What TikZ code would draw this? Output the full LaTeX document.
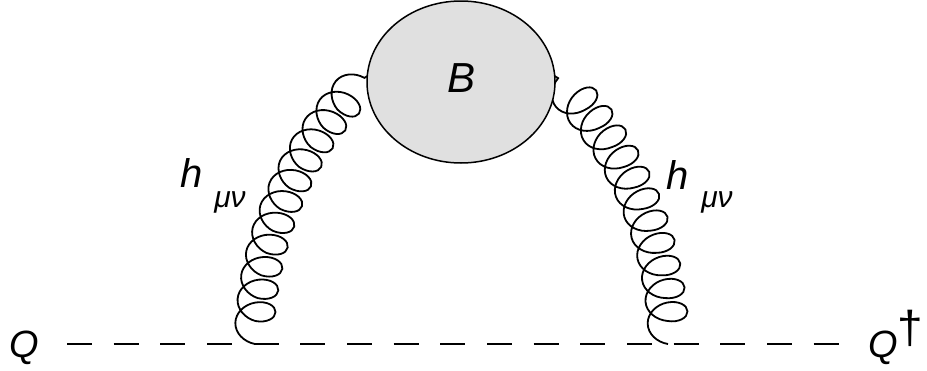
\documentclass[tikz,border=0pt]{standalone}
\usepackage{fontspec}
\setmainfont{Liberation Sans}
\usetikzlibrary{decorations.pathmorphing,shapes.geometric,calc}
\pgfdeclarelayer{bg}
\pgfsetlayers{bg,main}
\begin{document}
\begin{tikzpicture}[x=1pt,y=-1pt,
  gluon/.style={line width=1.8pt,decorate,
    decoration={coil,amplitude=20pt,segment length=23pt,aspect=0.75}},
  dashline/.style={line width=2.3pt,dash pattern=on 25pt off 21.67pt},
  blob/.style={ellipse,draw,line width=1.5pt,fill=black!12,minimum width=188pt,minimum height=162pt,inner sep=0pt},
  lbl/.style={inner sep=0pt,font=\itshape}]
\useasboundingbox (0,0) rectangle (927,370);
\node[blob] (B) at (461,82) {};
\node[lbl,font=\fontsize{42}{46}\itshape\selectfont] (Bt) at (462,78) {B};
\coordinate (L) at (67,344);
\coordinate (R) at (840,344);
\coordinate (vL) at (255,344);
\coordinate (vR) at (668,344);
\draw[dashline] (L) -- (R);
\begin{pgfonlayer}{bg}
\draw[gluon] (vL) .. controls (257,220) and (315,120) .. ($(B.west)+(14,-14)$);
\draw[gluon] (vR) .. controls (666,220) and (608,120) .. ($(B.east)+(-14,-14)$);
\end{pgfonlayer}
\node[lbl,anchor=base,font=\fontsize{38}{44}\itshape\selectfont] (Q) at (24,357) {Q};
\node[lbl,anchor=base,font=\fontsize{38}{44}\itshape\selectfont] (Q2) at (883,357) {Q};
\node[lbl,anchor=base,font=\fontsize{46}{50}\selectfont] (dag) at (910,343) {†};
\node[lbl,anchor=base,font=\fontsize{40}{46}\itshape\selectfont] (hL) at (192,187) {h};
\node[lbl,anchor=base,font=\fontsize{30}{34}\itshape\selectfont] (mL) at (230,207) {μν};
\node[lbl,anchor=base,font=\fontsize{40}{46}\itshape\selectfont] (hR) at (678,189) {h};
\node[lbl,anchor=base,font=\fontsize{30}{34}\itshape\selectfont] (mR) at (717,207) {μν};
\end{tikzpicture}
\end{document}
